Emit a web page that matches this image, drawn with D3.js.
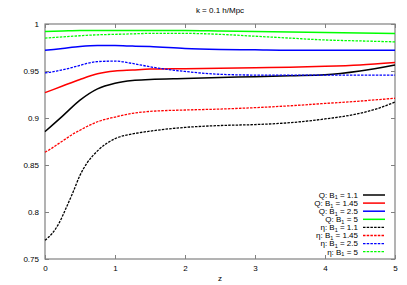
<!DOCTYPE html>
<html>
<head>
<meta charset="utf-8">
<script src="https://cdn.jsdelivr.net/npm/d3@7"></script>
<style>
  body { margin: 0; background: #fff; }
  text { font-family: "Liberation Sans", Arial, sans-serif; }
</style>
</head>
<body>
<div id="chart"></div>
<script>
// chart data
var zQ = [0, 0.25, 0.5, 0.75, 1, 1.25, 1.5, 2, 2.5, 3, 3.5, 4, 4.5, 5];
var qB11  = [0.8855, 0.902, 0.919, 0.931, 0.937, 0.940, 0.941, 0.942, 0.943, 0.944, 0.945, 0.946, 0.950, 0.9565];
var qB145 = [0.927, 0.934, 0.941, 0.947, 0.950, 0.951, 0.952, 0.9525, 0.953, 0.9535, 0.954, 0.955, 0.9565, 0.959];
var qB25  = [0.972, 0.974, 0.976, 0.977, 0.977, 0.9765, 0.976, 0.974, 0.973, 0.9725, 0.972, 0.972, 0.972, 0.972];
var qB5   = [0.992, 0.9925, 0.993, 0.993, 0.993, 0.993, 0.993, 0.993, 0.9925, 0.992, 0.9915, 0.991, 0.9905, 0.990];

var zEta = [0, 0.1, 0.2, 0.3, 0.4, 0.5, 0.6, 0.75, 1, 1.25, 1.5, 2, 2.5, 3, 3.5, 4, 4.5, 4.75, 5];
var eB11  = [0.770, 0.777, 0.788, 0.804, 0.821, 0.839, 0.852, 0.865, 0.878, 0.883, 0.886, 0.890, 0.892, 0.893, 0.895, 0.899, 0.905, 0.910, 0.917];
var eB145 = [0.8635, 0.868, 0.873, 0.878, 0.883, 0.887, 0.891, 0.896, 0.901, 0.905, 0.907, 0.9085, 0.9095, 0.911, 0.913, 0.9155, 0.918, 0.9195, 0.921];
var eB25  = [0.948, 0.949, 0.9505, 0.952, 0.954, 0.956, 0.958, 0.960, 0.9605, 0.958, 0.9545, 0.9495, 0.9465, 0.9457, 0.9457, 0.9457, 0.9457, 0.9457, 0.9457];
var eB5   = [0.985, 0.9855, 0.986, 0.9865, 0.987, 0.9875, 0.988, 0.9885, 0.989, 0.9895, 0.990, 0.990, 0.989, 0.987, 0.985, 0.983, 0.982, 0.9815, 0.981];

var xTicks = [0, 1, 2, 3, 4, 5];
var yTicks = [0.75, 0.8, 0.85, 0.9, 0.95, 1];

var seriesNames = ["Q: B|1| = 1.1", "Q: B|1| = 1.45", "Q: B|1| = 2.5", "Q: B|1| = 5",
                   "η: B|1| = 1.1", "η: B|1| = 1.45", "η: B|1| = 2.5", "η: B|1| = 5"];
var seriesColors = ["#000000", "#ff0000", "#0000ff", "#00ff00",
                    "#000000", "#ff0000", "#0000ff", "#00ff00"];

var series = [
  { z: zQ, v: qB11 }, { z: zQ, v: qB145 }, { z: zQ, v: qB25 }, { z: zQ, v: qB5 },
  { z: zEta, v: eB11 }, { z: zEta, v: eB145 }, { z: zEta, v: eB25 }, { z: zEta, v: eB5 }
];

var width = 407, height = 285;
var plotLeft = 45, plotRight = 395, plotTop = 24, plotBottom = 259;

var svg = d3.select("#chart").append("svg")
  .attr("width", width)
  .attr("height", height);

var xScale = d3.scaleLinear().domain([0, 5]).range([plotLeft, plotRight]);
var yScale = d3.scaleLinear().domain([0.75, 1]).range([plotBottom, plotTop]);

var axisColor = "#808080";

// axes, gnuplot style: ticks inside, mirrored
function styleAxis(g) {
  g.select(".domain").remove();
  g.selectAll(".tick line").attr("stroke", axisColor);
  g.selectAll(".tick text").attr("fill", "#000").style("font-size", "8px");
}

svg.append("g")
  .attr("transform", "translate(0," + plotBottom + ")")
  .call(d3.axisBottom(xScale).tickValues(xTicks).tickSizeInner(-4).tickSizeOuter(0).tickPadding(6).tickFormat(d3.format("d")))
  .call(styleAxis);
svg.append("g")
  .attr("transform", "translate(0," + plotTop + ")")
  .call(d3.axisTop(xScale).tickValues(xTicks).tickSizeInner(-4).tickSizeOuter(0).tickFormat(""))
  .call(styleAxis);
svg.append("g")
  .attr("transform", "translate(" + plotLeft + ",0)")
  .call(d3.axisLeft(yScale).tickValues(yTicks).tickSizeInner(-4).tickSizeOuter(0).tickPadding(6).tickFormat(function(d) { return String(d); }))
  .call(styleAxis);
svg.append("g")
  .attr("transform", "translate(" + plotRight + ",0)")
  .call(d3.axisRight(yScale).tickValues(yTicks).tickSizeInner(-4).tickSizeOuter(0).tickFormat(""))
  .call(styleAxis);

svg.append("rect")
  .attr("x", plotLeft).attr("y", plotTop)
  .attr("width", plotRight - plotLeft).attr("height", plotBottom - plotTop)
  .attr("fill", "none")
  .attr("stroke", axisColor)
  .attr("stroke-width", 1.2);

// curves
var line = d3.line()
  .x(function(d) { return xScale(d[0]); })
  .y(function(d) { return yScale(d[1]); })
  .curve(d3.curveMonotoneX);

series.forEach(function(s, i) {
  var pts = s.z.map(function(z, j) { return [z, s.v[j]]; });
  svg.append("path")
    .attr("d", line(pts))
    .attr("fill", "none")
    .attr("stroke", seriesColors[i])
    .attr("stroke-width", i < 4 ? 1.5 : 1.3)
    .attr("stroke-dasharray", i < 4 ? null : "2.5,1.2");
});

// legend
var legend = svg.append("g");
seriesNames.forEach(function(name, i) {
  var y = 195 + i * 8.1;
  var parts = name.split("|");
  var t = legend.append("text")
    .attr("x", 358).attr("y", y + 2.8)
    .attr("text-anchor", "end")
    .attr("fill", "#000")
    .style("font-size", "8px");
  t.append("tspan").text(parts[0]);
  t.append("tspan").attr("dy", 1.6).style("font-size", "5.5px").text(parts[1]);
  t.append("tspan").attr("dy", -1.6).text(parts[2]);
  legend.append("line")
    .attr("x1", 363).attr("x2", 385)
    .attr("y1", y).attr("y2", y)
    .attr("stroke", seriesColors[i])
    .attr("stroke-width", i < 4 ? 1.5 : 1.3)
    .attr("stroke-dasharray", i < 4 ? null : "2.5,1.2");
});

// title and axis label
svg.append("text")
  .attr("x", (plotLeft + plotRight) / 2).attr("y", 13)
  .attr("text-anchor", "middle")
  .style("font-size", "8px")
  .text("k = 0.1 h/Mpc");

svg.append("text")
  .attr("x", (plotLeft + plotRight) / 2).attr("y", 281)
  .attr("text-anchor", "middle")
  .style("font-size", "8px")
  .text("z");
</script>
</body>
</html>
